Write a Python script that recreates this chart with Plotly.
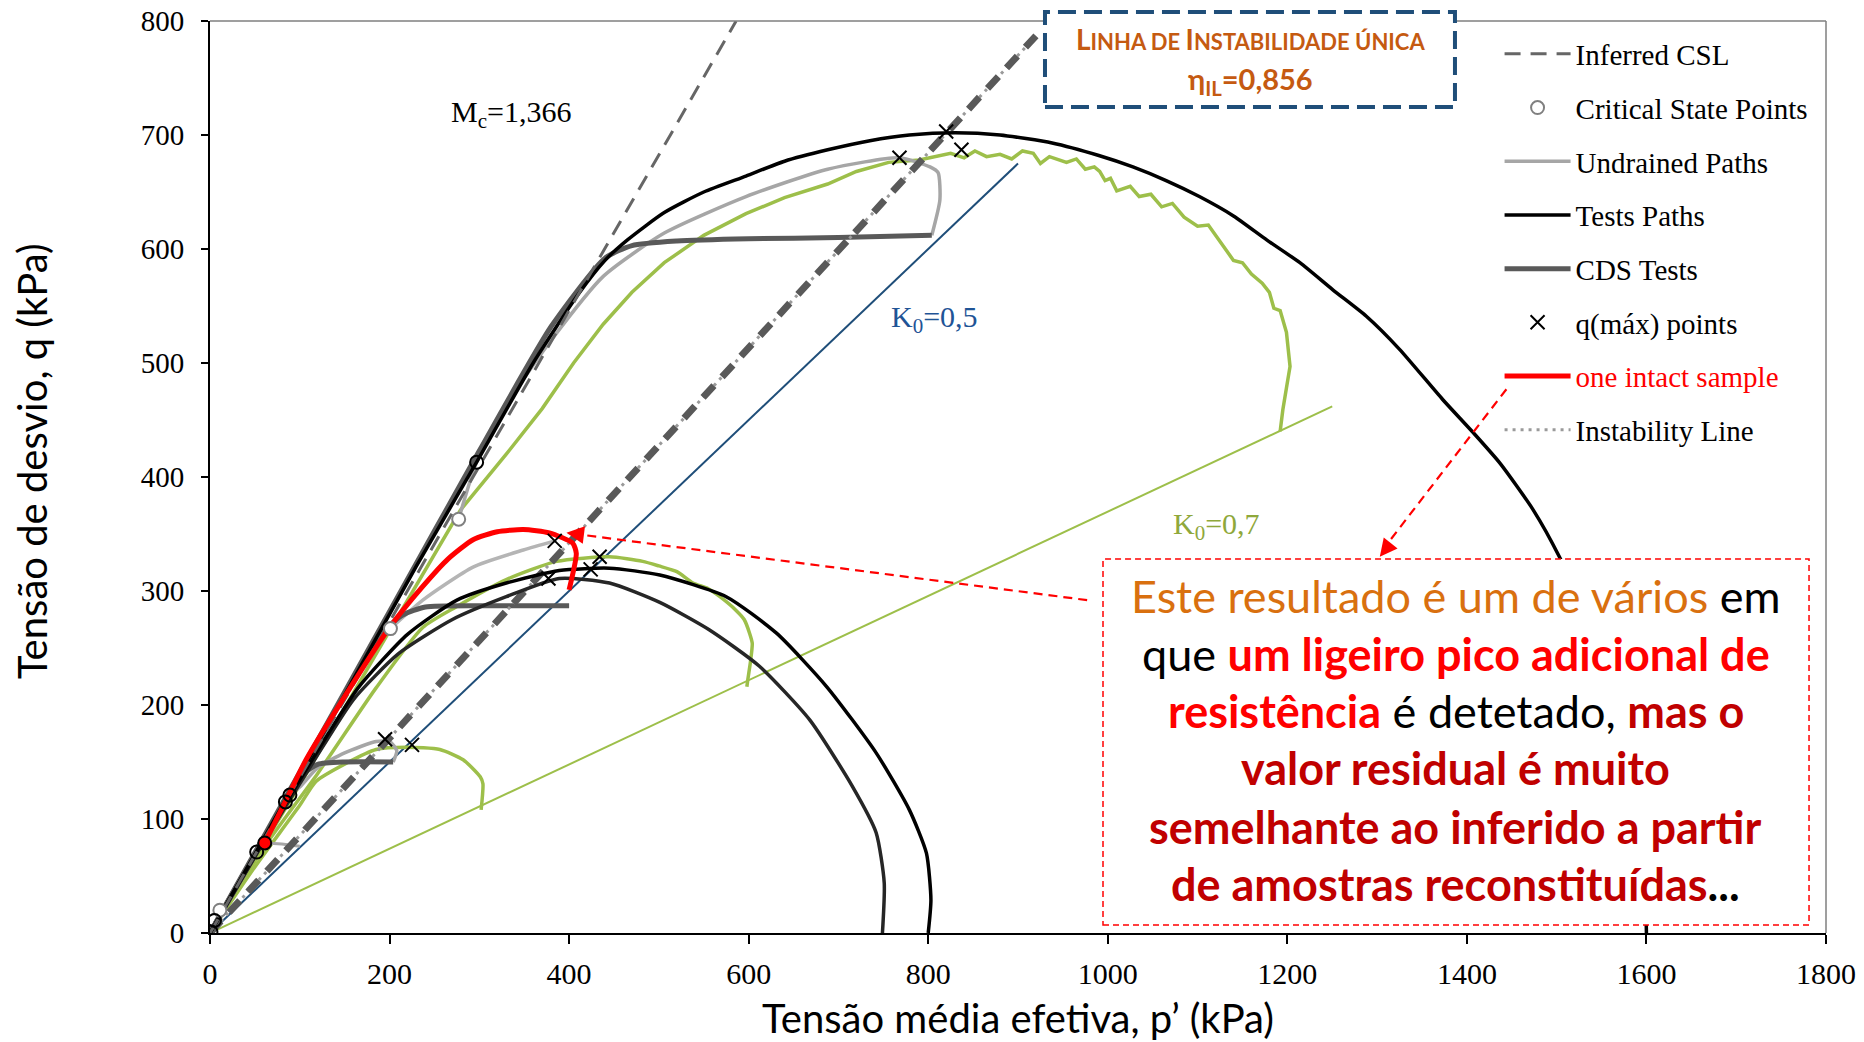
import plotly.graph_objects as go

# ---------------- data (p' , q in kPa) ----------------
csl_p = [0, 586]
csl_q = [0, 800]
il_p = [0, 920]
il_q = [0, 787]
k05_p = [0, 900]
k05_q = [0, 675]
k07_p = [0, 1250]
k07_q = [0, 462]

tests_big_p = [0, 60, 150, 230, 297, 360, 410, 440, 465, 506, 550, 597, 640, 688, 735, 779, 830, 880, 938, 990,
               1028, 1065, 1102, 1140, 1177, 1214, 1251, 1288, 1325, 1373, 1407, 1437, 1474, 1503, 1540, 1570,
               1590, 1598, 1600]
tests_big_q = [0, 83, 209, 322, 413, 500, 560, 590, 608, 632, 650, 664, 677, 687, 695, 700, 702, 700, 693, 682,
               672, 660, 646, 629, 608, 588, 564, 541, 512, 468, 439, 412, 371, 330, 265, 190,
               110, 50, 0]
tests_a_p = [0, 60, 120, 165, 220, 275, 330, 389, 445, 501, 575, 631, 687, 742, 779, 798, 803, 800]
tests_a_q = [0, 82, 160, 215, 262, 292, 307, 318, 320, 314, 295, 263, 216, 158, 108, 70, 29, 0]
tests_b_p = [0, 60, 115, 160, 210, 270, 330, 389, 445, 501, 556, 612, 668, 716, 742, 751, 749]
tests_b_q = [0, 80, 150, 205, 245, 275, 295, 311, 307, 290, 266, 234, 187, 128, 88, 44, 0]

cds1_p = [0, 100, 200, 300, 380, 440, 470, 520, 600, 700, 804]
cds1_q = [0, 141, 282, 423, 532, 592, 603, 607, 609, 610, 612]
cds2_p = [0, 100, 190, 215, 240, 320, 400]
cds2_q = [0, 138, 262, 279, 286, 287, 287]
cds3_p = [0, 60, 105, 120, 150, 204]
cds3_q = [0, 82, 140, 148, 150, 150]

und1_p = [804, 813, 811, 802, 768, 688, 597, 506, 438, 380, 334, 297, 277]
und1_q = [612, 643, 667, 672, 680, 670, 646, 614, 576, 520, 468, 413, 363]
und2_p = [201, 237, 293, 349, 384]
und2_q = [267, 292, 321, 336, 344]
und3_p = [204, 208, 200, 185, 150, 120, 100, 89]
und3_q = [150, 160, 168, 168, 158, 145, 128, 121]
und4_p = [61, 80, 100]
und4_q = [79, 78, 76]

red_p = [61, 85, 107, 148, 200, 237, 265, 293, 320, 349, 378, 404, 408, 400]
red_q = [79, 117, 152, 205, 268, 304, 328, 345, 352, 354, 351, 342, 333, 301]

green1_p = [0, 100, 200, 279, 330, 370, 405, 438, 470, 506, 550, 597, 640, 688, 720, 756, 790, 825, 840, 852,
            865, 880, 893, 905, 917, 925, 935, 954, 965, 975, 985, 991, 997, 1003, 1010, 1025, 1035, 1048,
            1060, 1072, 1085, 1100, 1112, 1125, 1140, 1150, 1160, 1172, 1180, 1185, 1192, 1199, 1201, 1203,
            1199, 1195, 1192]
green1_q = [0, 130, 265, 371, 420, 460, 500, 534, 562, 588, 612, 631, 645, 657, 668, 676, 678, 684, 680, 686,
            681, 683, 679, 686, 684, 675, 681, 676, 679, 670, 672, 668, 660, 662, 651, 655, 646, 648,
            637, 640, 628, 620, 621, 607, 590, 588, 578, 570, 562, 548, 546, 527, 512, 497,
            478, 459, 440]
green2_p = [0, 60, 120, 185, 237, 274, 330, 386, 445, 482, 500, 520, 538, 555, 568, 586, 595, 601, 604, 602,
            599, 598]
green2_q = [0, 75, 140, 215, 268, 286, 310, 326, 330, 326, 322, 317, 307, 302, 295, 283, 275, 263, 254, 238,
            222, 216]
green3_p = [0, 50, 100, 118, 152, 185, 219, 256, 282, 301, 304, 302]
green3_q = [0, 58, 112, 133, 149, 161, 163, 161, 152, 137, 131, 108]

qmax_p = [820, 837, 768, 384, 377, 434, 424, 195, 225]
qmax_q = [703, 687, 680, 344, 311, 330, 319, 170, 165]
csp_open_p = [277, 201, 11]
csp_open_q = [363, 267, 20]
csp_black_p = [297, 89, 84, 52, 5, 1]
csp_black_q = [413, 121, 115, 71, 11, 1]
csp_red_p = [61]
csp_red_q = [79]

x_ticks = [0, 200, 400, 600, 800, 1000, 1200, 1400, 1600, 1800]
y_ticks = [0, 100, 200, 300, 400, 500, 600, 700, 800]

# ---------------- colours ----------------
GREEN = "#9DBF4A"
BLACK = "#000000"
LGREY = "#A6A6A6"
DGREY = "#595959"
BLUE = "#1F4E79"
RED = "#FF0000"

fig = go.Figure()


def line(px, qy, color, width, dash="solid", name=None, rank=None, show=False, group=None, shape="linear"):
    fig.add_trace(go.Scatter(x=px, y=qy, mode="lines",
                             line=dict(color=color, width=width, dash=dash, shape=shape, smoothing=0.6),
                             name=name, showlegend=show, legendrank=rank,
                             legendgroup=group, hoverinfo="skip"))


# K0 lines
line(k07_p, k07_q, GREEN, 2)
line(k05_p, k05_q, BLUE, 2)
# green tests
line(green1_p, green1_q, GREEN, 3.5)
line(green2_p, green2_q, GREEN, 3.5, shape="spline")
line(green3_p, green3_q, GREEN, 3.5, shape="spline")
# undrained
line(und1_p, und1_q, LGREY, 3.5, name="Undrained Paths", rank=3, show=True, group="g3", shape="spline")
line(und2_p, und2_q, "#B5B5B5", 3.5, group="g3", shape="spline")
line(und3_p, und3_q, LGREY, 3.5, group="g3", shape="spline")
line(und4_p, und4_q, LGREY, 3, group="g3")
# CDS
line(cds1_p, cds1_q, DGREY, 5, name="CDS Tests", rank=5, show=True, group="g5", shape="spline")
line(cds2_p, cds2_q, DGREY, 5, group="g5", shape="spline")
line(cds3_p, cds3_q, DGREY, 5, group="g5", shape="spline")
# instability line (dotted) + thick dashed unique instability line
line(il_p, il_q, "#9A9A9A", 3, dash="3px,5px", name="Instability Line", rank=8, show=True, group="g8")
line(il_p, il_q, DGREY, 7, dash="16px,12px")
# tests paths
line(tests_b_p, tests_b_q, "#262626", 3.5, group="g4", shape="spline")
line(tests_a_p, tests_a_q, BLACK, 3.5, group="g4", shape="spline")
line(tests_big_p, tests_big_q, BLACK, 3.5, name="Tests Paths", rank=4, show=True, group="g4", shape="spline")
# CSL
line(csl_p, csl_q, "#666666", 3, dash="16px,10px", name="Inferred CSL", rank=1, show=True, group="g1")
# intact sample
line(red_p, red_q, RED, 5, name="<span style='color:#FF0000'>one intact sample</span>", rank=7, show=True,
     group="g7", shape="spline")

# markers
fig.add_trace(go.Scatter(x=csp_open_p, y=csp_open_q, mode="markers", name="Critical State Points",
                         marker=dict(symbol="circle", size=13, color="white", line=dict(color="#808080", width=2)),
                         legendrank=2, legendgroup="g2", hoverinfo="skip"))
fig.add_trace(go.Scatter(x=csp_black_p, y=csp_black_q, mode="markers", showlegend=False,
                         marker=dict(symbol="circle-open", size=13, color=BLACK, line=dict(color=BLACK, width=2)),
                         hoverinfo="skip"))
fig.add_trace(go.Scatter(x=csp_red_p, y=csp_red_q, mode="markers", showlegend=False,
                         marker=dict(symbol="circle", size=13, color=RED, line=dict(color=BLACK, width=2)),
                         hoverinfo="skip"))
fig.add_trace(go.Scatter(x=qmax_p, y=qmax_q, mode="markers", name="q(máx) points",
                         marker=dict(symbol="x-thin", size=14, color=BLACK, line=dict(color=BLACK, width=2)),
                         legendrank=6, legendgroup="g6", hoverinfo="skip"))

# ---------------- shapes ----------------
shapes = [
    # top / right frame
    dict(type="line", xref="paper", yref="paper", x0=0, x1=1, y0=1, y1=1, line=dict(color="#7F7F7F", width=1.5)),
    dict(type="line", xref="paper", yref="paper", x0=1, x1=1, y0=0, y1=1, line=dict(color="#7F7F7F", width=1.5)),
    # top blue dashed box
    dict(type="rect", xref="paper", yref="paper", x0=0.5167, x1=0.7704, y0=0.9057, y1=1.0099,
         fillcolor="white", line=dict(color=BLUE, width=4, dash="18px,8px"), layer="above"),
    # red dashed text box
    dict(type="rect", xref="paper", yref="paper", x0=0.5526, x1=0.9895, y0=0.0088, y1=0.4101,
         fillcolor="white", line=dict(color=RED, width=1.5, dash="6px,4px"), layer="above"),
    # dashed arrow shafts
    dict(type="line", xref="x", yref="y", x0=977, y0=292, x1=412, y1=349.5,
         line=dict(color=RED, width=2.2, dash="9px,6px"), layer="above"),
    dict(type="line", xref="x", yref="y", x0=1444, y0=477, x1=1312, y1=342,
         line=dict(color=RED, width=2.2, dash="9px,6px"), layer="above"),
]

ann = []
# arrow heads
ann.append(dict(x=397, y=351, xref="x", yref="y", text="", showarrow=True, arrowhead=2, arrowsize=1.6,
                arrowwidth=2.2, arrowcolor=RED, ax=18, ay=2.3))
ann.append(dict(x=1303, y=330, xref="x", yref="y", text="", showarrow=True, arrowhead=2, arrowsize=1.6,
                arrowwidth=2.2, arrowcolor=RED, ax=11, ay=-14))

SERIF = "Liberation Serif"
SANS = "Lato"
# y-axis title (placed as rotated annotation to match the reference offset)
ann.append(dict(x=-0.1101, y=0.5175, xref="paper", yref="paper", xanchor="center", yanchor="middle",
                showarrow=False, textangle=-90, text="Tensão de desvio, q (kPa)",
                font=dict(family=SANS, size=40, color=BLACK)))
ann.append(dict(x=266, y=718, xref="x", yref="y", xanchor="left", yanchor="middle", showarrow=False,
                text="M<sub>c</sub>=1,366", font=dict(family=SERIF, size=30, color=BLACK)))
ann.append(dict(x=756, y=539, xref="x", yref="y", xanchor="left", yanchor="middle", showarrow=False,
                text="K<sub>0</sub>=0,5", font=dict(family=SERIF, size=30, color="#1F5496")))
ann.append(dict(x=1070, y=357, xref="x", yref="y", xanchor="left", yanchor="middle", showarrow=False,
                text="K<sub>0</sub>=0,7", font=dict(family=SERIF, size=30, color="#8FA83B")))

ORANGE = "#C55A11"
big = "<span style='font-size:28px'>"
sm = "<span style='font-size:22px'>"
ann.append(dict(x=0.6436, y=0.9807, xref="paper", yref="paper", showarrow=False, xanchor="center",
                yanchor="middle",
                text="<b>" + big + "L</span>" + sm + "INHA DE </span>" + big + "I</span>" + sm +
                     "NSTABILIDADE ÚNICA</span></b>",
                font=dict(family=SANS, size=22, color=ORANGE)))
ann.append(dict(x=0.6436, y=0.9343, xref="paper", yref="paper", showarrow=False, xanchor="center",
                yanchor="middle", text="<b>η<sub>IL</sub>=0,856</b>",
                font=dict(family=SANS, size=29, color=ORANGE)))

OR2 = "#D9700F"
RED2 = "#C00000"
lines_txt = [
    f"<span style='color:{OR2}'>Este resultado é um de vários</span> em",
    f"que <b><span style='color:{RED}'>um ligeiro pico adicional de</span></b>",
    f"<b><span style='color:{RED}'>resistência</span></b> é detetado, <b><span style='color:{RED2}'>mas o</span></b>",
    f"<b><span style='color:{RED2}'>valor residual é muito</span></b>",
    f"<b><span style='color:{RED2}'>semelhante ao inferido a partir</span></b>",
    f"<b><span style='color:{RED2}'>de amostras reconstituídas</span>...</b>",
]
ys = [0.3695, 0.3059, 0.2434, 0.1809, 0.1162, 0.0537]
for t, yy in zip(lines_txt, ys):
    ann.append(dict(x=0.771, y=yy, xref="paper", yref="paper", showarrow=False, xanchor="center",
                    yanchor="middle", text=t, font=dict(family=SANS, size=45, color=BLACK)))

fig.update_layout(
    width=1864, height=1042,
    margin=dict(l=210, r=38, t=21, b=109, autoexpand=False),
    paper_bgcolor="white", plot_bgcolor="white",
    shapes=shapes, annotations=ann,
    showlegend=True,
    legend=dict(x=0.798, y=0.9918, xanchor="left", yanchor="top", bgcolor="rgba(0,0,0,0)",
                font=dict(family=SERIF, size=29, color=BLACK), itemwidth=66,
                traceorder="grouped", tracegroupgap=13),
    xaxis=dict(range=[0, 1800], tickvals=x_ticks, ticktext=[str(v) for v in x_ticks], automargin=False,
               showgrid=False, zeroline=False, showline=True, linecolor=BLACK, linewidth=2,
               ticks="outside", ticklen=9, tickwidth=2, tickcolor=BLACK, ticklabelstandoff=4,
               ticklabeloverflow="allow",
               tickfont=dict(family=SERIF, size=30, color=BLACK),
               title=dict(text="Tensão média efetiva, p’ (kPa)", font=dict(family=SANS, size=40, color=BLACK),
                          standoff=16)),
    yaxis=dict(range=[0, 800], tickvals=y_ticks, ticktext=[str(v) for v in y_ticks], automargin=False,
               showgrid=False, zeroline=False, showline=True, linecolor=BLACK, linewidth=2,
               ticks="outside", ticklen=7, tickwidth=2, tickcolor=BLACK, ticklabelstandoff=11,
               ticklabeloverflow="allow",
               tickfont=dict(family=SERIF, size=29, color=BLACK)),
)

fig.write_html("out.html", config={"displayModeBar": False},
               post_script="document.body.style.margin='0';document.body.style.overflow='hidden';")
